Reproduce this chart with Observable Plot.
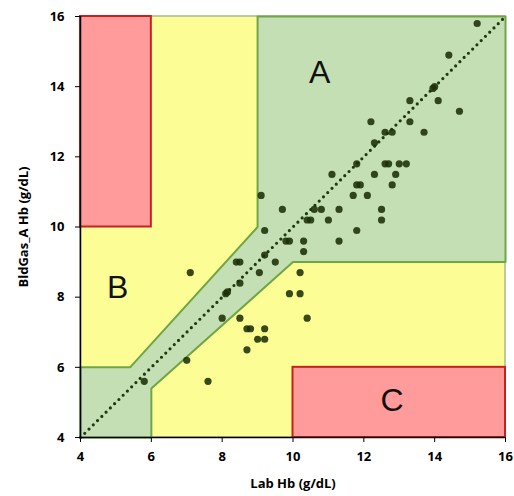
<!DOCTYPE html>
<html>
<head>
<meta charset="utf-8">
<script src="https://cdn.jsdelivr.net/npm/d3@7"></script>
<script src="https://cdn.jsdelivr.net/npm/@observablehq/plot@0.6"></script>
<style>
  html, body { margin: 0; padding: 0; background: #fff; }
</style>
</head>
<body>
<div id="chart"></div>
<script>
// Data
const labHb = [5.8, 7.0, 7.6, 7.1, 8.0, 8.1, 8.15, 8.4, 8.5, 8.5, 8.5, 8.7, 8.8, 8.7, 9.0, 9.2, 9.2, 9.05, 9.1, 9.2, 9.2, 9.5, 9.7, 9.8, 9.9, 9.9, 10.2, 10.2, 10.4, 10.3, 10.3, 10.4, 10.5, 10.6, 10.8, 11.0, 11.3, 11.3, 11.1, 11.8, 11.7, 11.8, 11.9, 11.8, 12.1, 12.3, 12.5, 12.5, 12.6, 12.7, 12.8, 12.9, 13.0, 13.2, 12.3, 12.2, 12.6, 12.8, 13.3, 13.3, 13.7, 14.1, 14.7, 14.0, 13.95, 14.4, 15.2];
const bldGasHb = [5.6, 6.2, 5.6, 8.7, 7.4, 8.1, 8.15, 9.0, 9.0, 8.4, 7.4, 7.1, 7.1, 6.5, 6.8, 6.8, 7.1, 8.7, 10.9, 9.9, 9.2, 9.0, 10.5, 9.6, 9.6, 8.1, 8.1, 8.7, 7.4, 9.6, 9.3, 10.2, 10.2, 10.5, 10.5, 10.2, 10.5, 9.6, 11.5, 9.9, 10.9, 11.2, 11.2, 11.8, 10.9, 11.5, 10.5, 10.2, 11.8, 11.8, 11.2, 11.5, 11.8, 11.8, 12.4, 13.0, 12.7, 12.7, 13.0, 13.6, 12.7, 13.6, 13.3, 14.0, 13.95, 14.9, 15.8];

const ticks = [4, 6, 8, 10, 12, 14, 16];

// Zone A polygon vertices (Lab Hb, BldGas Hb)
const zoneAx = [4, 6, 6, 10, 16, 16, 9, 9, 5.4, 4, 4];
const zoneAy = [4, 4, 5.4, 9, 9, 16, 16, 10, 6, 6, 4];

// Zone C rectangles
const zoneCx1 = [4, 10];
const zoneCx2 = [6, 16];
const zoneCy1 = [10, 4];
const zoneCy2 = [16, 6];

const zoneLabels = ["A", "B", "C"];
const zoneLabelX = [10.75, 5.05, 12.8];
const zoneLabelY = [14.4, 8.27, 5.05];

const points = labHb.map((x, i) => ({x, y: bldGasHb[i]}));
const zoneA = zoneAx.map((x, i) => ({x, y: zoneAy[i]}));
const zoneC = zoneCx1.map((x1, i) => ({x1, x2: zoneCx2[i], y1: zoneCy1[i], y2: zoneCy2[i]}));
const labels = zoneLabels.map((t, i) => ({t, x: zoneLabelX[i], y: zoneLabelY[i]}));

const chart = Plot.plot({
  width: 514,
  height: 496,
  marginLeft: 80,
  marginRight: 9,
  marginTop: 16,
  marginBottom: 59,
  style: {fontFamily: "'Open Sans', sans-serif", background: "#fff"},
  x: {domain: [4, 16]},
  y: {domain: [4, 16]},
  marks: [
    Plot.rect([{x1: 4, x2: 16, y1: 4, y2: 16}], {x1: "x1", x2: "x2", y1: "y1", y2: "y2", fill: "#fdfd96", stroke: "#a8b890", strokeWidth: 1.5}),
    Plot.line(zoneA, {x: "x", y: "y", fill: "#c5dfb4", stroke: "#6fa545", strokeWidth: 2, curve: "linear"}),
    Plot.rect(zoneC, {x1: "x1", x2: "x2", y1: "y1", y2: "y2", fill: "#ff9b9b", stroke: "#c8201c", strokeWidth: 2}),
    Plot.line([{x: 4, y: 4}, {x: 16, y: 16}], {x: "x", y: "y", stroke: "#1f3a12", strokeWidth: 3.2, strokeDasharray: "0,6", strokeLinecap: "round"}),
    Plot.dot(points, {x: "x", y: "y", r: 3.6, fill: "#1c3008", fillOpacity: 0.88, stroke: "none"}),
    Plot.text(labels, {x: "x", y: "y", text: "t", fontSize: 32, fontFamily: "'Liberation Sans', Arial, sans-serif", fill: "#111"}),
    Plot.ruleX([4], {stroke: "#000", strokeWidth: 1.5}),
    Plot.ruleY([4], {stroke: "#000", strokeWidth: 1.5}),
    Plot.axisX({ticks, tickSize: 5, tickPadding: 9, fontSize: 13, fontWeight: "bold", label: "Lab Hb (g/dL)", labelAnchor: "center", labelArrow: "none", labelOffset: 50}),
    Plot.axisY({ticks, tickSize: 5, tickPadding: 11, fontSize: 13, fontWeight: "bold", label: "BldGas_A Hb (g/dL)", labelAnchor: "center", labelArrow: "none", labelOffset: 62})
  ]
});
document.getElementById("chart").appendChild(chart);
</script>
</body>
</html>
